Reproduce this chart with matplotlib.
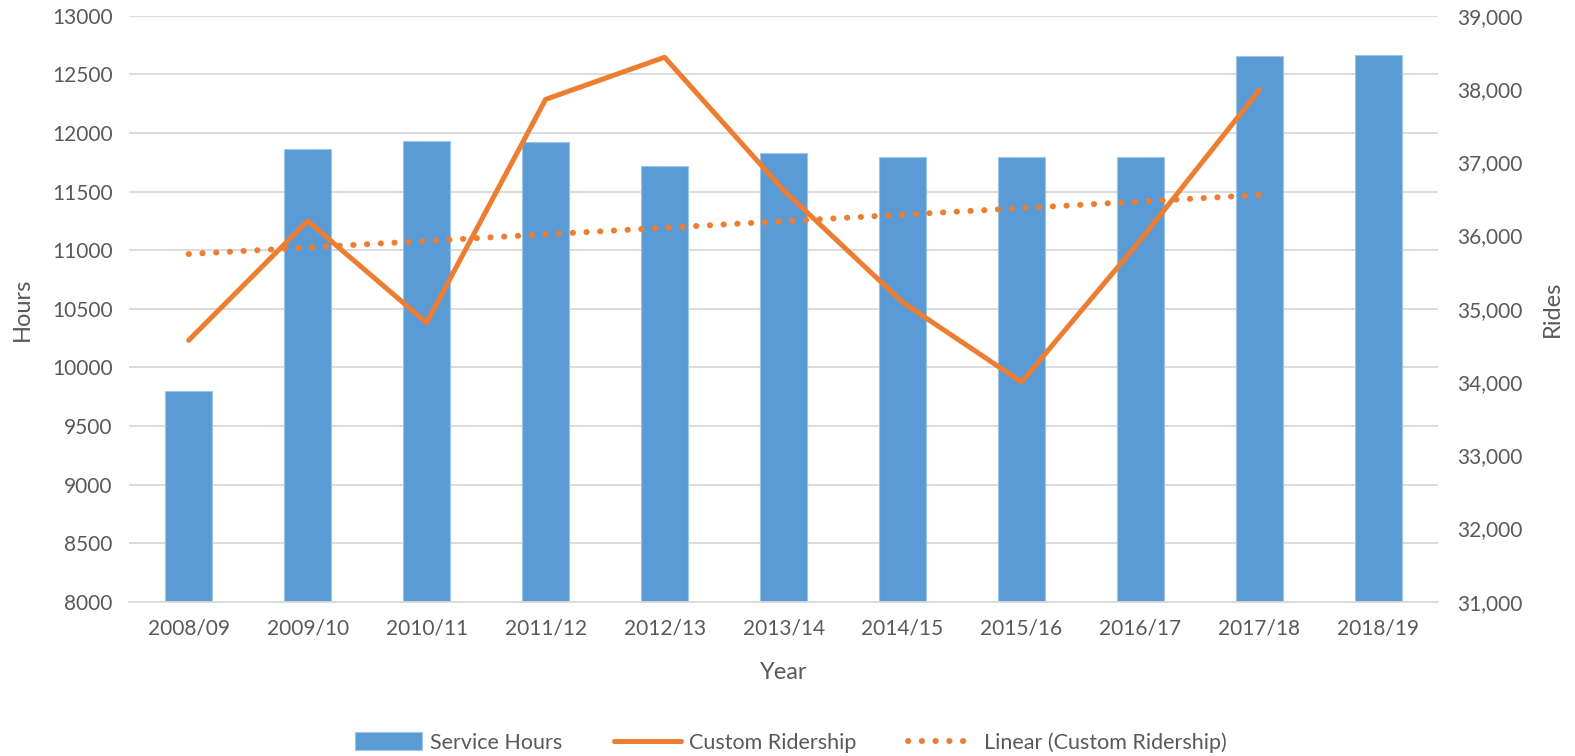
import numpy as np
import matplotlib
matplotlib.use("Agg")
import matplotlib.pyplot as plt
from matplotlib.ticker import FuncFormatter, MultipleLocator

plt.rcParams["font.family"] = ["Lato", "DejaVu Sans"]

years = ["2008/09", "2009/10", "2010/11", "2011/12", "2012/13", "2013/14",
         "2014/15", "2015/16", "2016/17", "2017/18", "2018/19"]
service_hours = [9800, 11865, 11935, 11920, 11715, 11830, 11795, 11795, 11795, 12660, 12670]
ridership = [34570, 36200, 34810, 37860, 38435, 36620, 35090, 34000, 35940, 37990]

blue = "#5B9BD5"
orange = "#ED7D31"
txt = "#595959"
grid = "#D9D9D9"

fig = plt.figure(figsize=(15.75, 7.56), dpi=100)
ax = fig.add_axes([0.082, 0.204, 0.831, 0.775])
ax2 = ax.twinx()

x = np.arange(len(years))
bars = ax.bar(x, service_hours, width=0.4, color=blue, edgecolor="#9DC3E6",
              linewidth=0.8, label="Service Hours", zorder=2)
ax.set_ylim(8000, 13000)
ax.yaxis.set_major_locator(MultipleLocator(500))
ax.set_xlim(-0.5, len(years) - 0.5)
ax.set_xticks(x)
ax.set_xticklabels(years)
ax.grid(axis="y", color=grid, linewidth=1.3, zorder=0)
ax.set_axisbelow(True)

# ridership line + linear trend
xr = np.arange(len(ridership))
line, = ax2.plot(xr, ridership, color=orange, linewidth=3.6,
                 solid_capstyle="round", label="Custom Ridership", zorder=3)
k, b = np.polyfit(xr, ridership, 1)
trend, = ax2.plot(xr, k * xr + b, color=orange, linewidth=4.3,
                  linestyle=(0, (0.05, 2.25)), dash_capstyle="round",
                  label="Linear (Custom Ridership)", zorder=3)
ax2.set_ylim(31000, 39000)
ax2.yaxis.set_major_locator(MultipleLocator(1000))
ax2.yaxis.set_major_formatter(FuncFormatter(lambda v, p: f"{v:,.0f}"))

for a in (ax, ax2):
    for s in a.spines.values():
        s.set_visible(False)
    a.tick_params(length=0, labelsize=15, colors=txt)
ax.spines["bottom"].set_visible(True)
ax.spines["bottom"].set_color(grid)
ax.spines["bottom"].set_linewidth(1.3)
ax.tick_params(axis="y", pad=12)
ax.tick_params(axis="x", pad=12)
ax2.tick_params(axis="y", pad=14)

ax.set_ylabel("Hours", fontsize=17, color=txt, labelpad=14)
ax2.set_ylabel("Rides", fontsize=17, color=txt, labelpad=14)
ax.set_xlabel("Year", fontsize=17, color=txt, labelpad=17)

fig.legend([bars, line, trend],
           ["Service Hours", "Custom Ridership", "Linear (Custom Ridership)"],
           loc="center", bbox_to_anchor=(0.502, 0.018), ncol=3, frameon=False,
           fontsize=15.5, labelcolor=txt, handlelength=3.1, handleheight=0.9,
           columnspacing=2.4, handletextpad=0.4)

fig.savefig("out.png", dpi=100)
